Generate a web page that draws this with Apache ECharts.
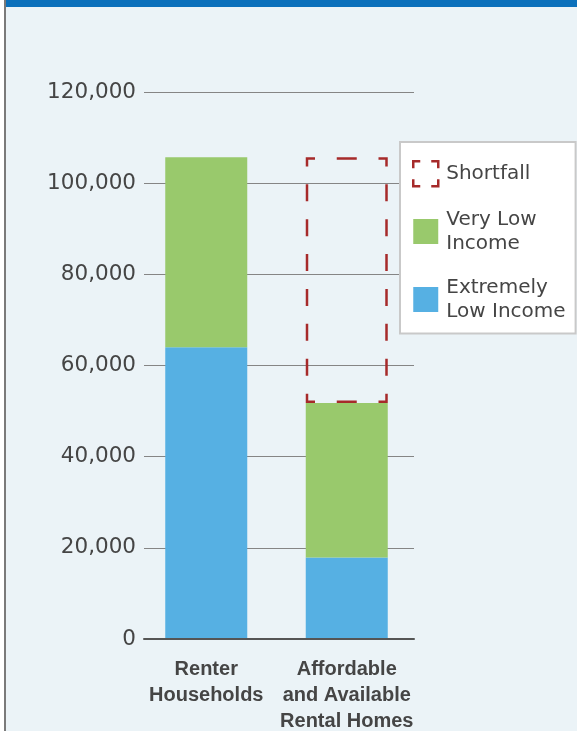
<!DOCTYPE html>
<html>
<head>
<meta charset="utf-8">
<script src="https://cdn.jsdelivr.net/npm/echarts@6/dist/echarts.min.js"></script>
<style>
  html, body { margin: 0; padding: 0; background: #ffffff; }
  #frameLine { position: absolute; left: 4px; top: 0; width: 2px; height: 731px; background: #7a7a7a; }
  #panel { position: absolute; left: 6px; top: 0; width: 571px; height: 731px; background: #ebf3f7; box-sizing: border-box; border-top: 7px solid #0b70bb; }
  #chart { position: absolute; left: 0; top: 0; width: 577px; height: 731px; }
</style>
</head>
<body>
<div id="frameLine"></div>
<div id="panel"></div>
<div id="chart"></div>
<script>
// ---- data ----
const categories = ['Renter\nHouseholds', 'Affordable\nand Available\nRental Homes'];
const extremelyLowIncome = [64000, 17900];
const veryLowIncome = [41700, 33900];
const shortfall = ['-', 53900];
const seriesNames = ['Shortfall', 'Very Low Income', 'Extremely Low Income'];
const legendLabels = { 'Shortfall': 'Shortfall', 'Very Low Income': 'Very Low\nIncome', 'Extremely Low Income': 'Extremely\nLow Income' };
const yMin = 0, yMax = 120000, yStep = 20000;

const textColor = '#454545';
const dashRed = '#a62a2a';
const barW = 82;
const dashLW = 2.5;
const chart = echarts.init(document.getElementById('chart'), null, { renderer: 'canvas' });

function fmt(v) { return String(v).replace(/\B(?=(\d{3})+(?!\d))/g, ','); }

chart.setOption({
  backgroundColor: 'transparent',
  animation: false,
  grid: [
    { left: 144, right: 163, top: 92, bottom: 92, outerBoundsMode: 'none', containLabel: false },
    { left: 136, right: 160, top: 92, bottom: 92, outerBoundsMode: 'none', containLabel: false }
  ],
  xAxis: [
    { type: 'category', gridIndex: 0, data: categories,
      axisLine: { show: true, lineStyle: { color: '#555555', width: 2 } },
      axisTick: { show: false }, axisLabel: { show: false }, splitLine: { show: false }, z: 5 },
    { type: 'category', gridIndex: 1, data: categories,
      axisLine: { show: false }, axisTick: { show: false }, splitLine: { show: false },
      axisLabel: { interval: 0, margin: 17, color: textColor, fontFamily: 'Liberation Sans', fontWeight: 'bold', fontSize: 20, lineHeight: 26 } }
  ],
  yAxis: [
    { type: 'value', gridIndex: 0, min: yMin, max: yMax, interval: yStep,
      axisLine: { show: false }, axisTick: { show: false },
      splitLine: { show: true, lineStyle: { color: '#858585', width: 1 } },
      axisLabel: { margin: 8, color: textColor, fontFamily: 'DejaVu Sans', fontSize: 21.5, formatter: fmt } },
    { type: 'value', gridIndex: 1, min: yMin, max: yMax, interval: yStep, show: false }
  ],
  legend: {
    orient: 'vertical', left: 400, top: 142,
    selectedMode: false,
    backgroundColor: '#ffffff', borderColor: '#c9c9c9', borderWidth: 2,
    padding: [18, 10, 10, 12],
    itemWidth: 25, itemHeight: 25, itemGap: 20,
    icon: 'rect',
    formatter: function (n) { return legendLabels[n]; },
    textStyle: { color: textColor, fontFamily: 'DejaVu Sans', fontSize: 20, lineHeight: 24, padding: [0, 0, 0, 3] },
    data: [
      { name: seriesNames[0], itemStyle: { color: 'transparent', borderColor: dashRed, borderWidth: 2.5, borderType: [7, 11, 14, 11, 14, 11, 14, 11, 7] } },
      { name: seriesNames[1] },
      { name: seriesNames[2] }
    ]
  },
  series: [
    { name: seriesNames[2], type: 'bar', xAxisIndex: 1, yAxisIndex: 1, stack: 'total', barWidth: barW,
      itemStyle: { color: '#56b0e3' }, data: extremelyLowIncome },
    { name: seriesNames[1], type: 'bar', xAxisIndex: 1, yAxisIndex: 1, stack: 'total', barWidth: barW,
      itemStyle: { color: '#99c96c' }, data: veryLowIncome },
    { name: seriesNames[0], type: 'bar', xAxisIndex: 1, yAxisIndex: 1, stack: 'total', barWidth: barW,
      itemStyle: { color: 'transparent', borderColor: dashRed, borderWidth: dashLW, borderType: [17, 18] },
      data: shortfall }
  ]
});

// Dash pattern aligned to the corners of the shortfall box (corner L-shapes, evenly spaced dashes)
(function () {
  const idx = 1;
  const base = extremelyLowIncome[idx] + veryLowIncome[idx];
  const top = base + shortfall[idx];
  const p0 = chart.convertToPixel({ xAxisIndex: 1, yAxisIndex: 1 }, [idx, base]);
  const p1 = chart.convertToPixel({ xAxisIndex: 1, yAxisIndex: 1 }, [idx, top]);
  // ECharts insets the bar rect by half the border width on each side
  const H = Math.abs(p0[1] - p1[1]) - dashLW;
  const W = barW - dashLW;
  const c = 8;
  function edge(L, d, gT) {
    const n = Math.max(0, Math.round((L - 2 * c - gT) / (d + gT)));
    const g = (L - 2 * c - n * d) / (n + 1);
    const segs = [];
    for (let i = 0; i < n; i++) { segs.push(g, d); }
    segs.push(g);
    return segs;
  }
  const hz = edge(W, 20, 21);
  const vt = edge(H, 17, 18.5);
  let dash = [c];
  [hz, vt, hz, vt].forEach(function (e, k) {
    dash = dash.concat(e);
    dash.push(k < 3 ? 2 * c : c);
  });
  chart.setOption({
    series: [{}, {}, { itemStyle: { borderType: dash } }]
  });
})();
</script>
</body>
</html>
